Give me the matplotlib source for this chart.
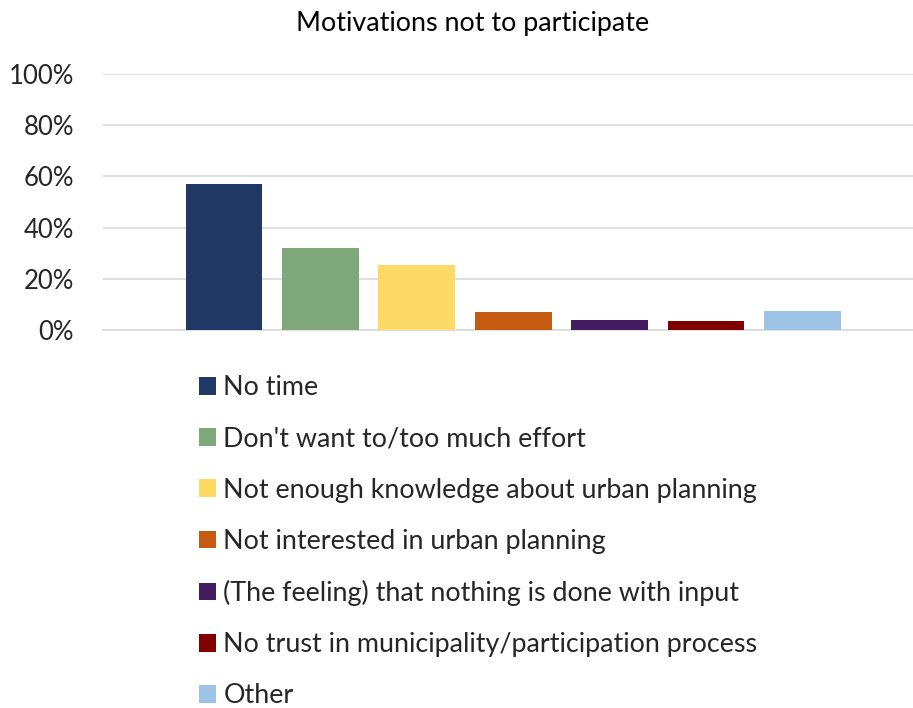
import matplotlib
matplotlib.use("Agg")
import matplotlib.pyplot as plt
from matplotlib.patches import Patch

plt.rcParams['font.family'] = ['Lato', 'DejaVu Sans']

categories = [
    "No time",
    "Don't want to/too much effort",
    "Not enough knowledge about urban planning",
    "Not interested in urban planning",
    "(The feeling) that nothing is done with input",
    "No trust in municipality/participation process",
    "Other",
]
values = [0.57, 0.32, 0.254, 0.07, 0.039, 0.035, 0.074]
colors = ["#1F3864", "#7FA87A", "#FFD966", "#C55A11", "#421C5F", "#800000", "#9DC3E6"]
yticks = [0, 0.2, 0.4, 0.6, 0.8, 1.0]
ytick_labels = ["0%", "20%", "40%", "60%", "80%", "100%"]

fig = plt.figure(figsize=(9.13, 7.08), dpi=100)
ax = fig.add_axes([103 / 913, 1 - 330 / 708, 810 / 913, 256 / 708])

x = list(range(len(values)))
ax.bar(x, values, width=0.795, color=colors, zorder=3)

ax.set_ylim(0, 1.0)
ax.set_xlim(-1.255, 7.147)
ax.set_yticks(yticks)
ax.set_yticklabels(ytick_labels, fontsize=18.5, color="#262626")
ax.set_xticks([])
ax.tick_params(axis="y", length=0, pad=21)
ax.grid(axis="y", color="#D9D9D9", linewidth=1.2, zorder=0)
for s in ["top", "right", "left"]:
    ax.spines[s].set_visible(False)
ax.spines["bottom"].set_color("#D9D9D9")
ax.spines["bottom"].set_linewidth(1.2)

fig.text(473 / 913, 1 - 23 / 708, "Motivations not to participate",
         ha="center", va="center", fontsize=19.4, color="black")

handles = [Patch(facecolor=c, edgecolor="none") for c in colors]
fig.legend(handles, categories, loc="upper left",
           bbox_to_anchor=(199 / 913, 1 - 375.5 / 708),
           frameon=False, fontsize=19.4, handlelength=0.63, handleheight=0.63,
           handletextpad=0.27, labelspacing=0.97, borderpad=0, borderaxespad=0,
           labelcolor="#262626")

fig.savefig("out.png", dpi=100)
